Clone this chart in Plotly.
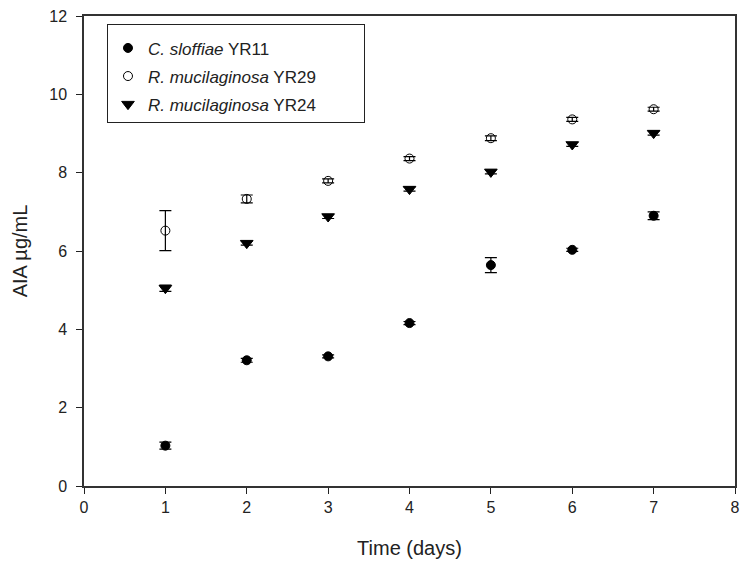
import plotly.graph_objects as go

days = [1, 2, 3, 4, 5, 6, 7]

yr11 = [1.03, 3.21, 3.31, 4.16, 5.64, 6.03, 6.90]
yr11_err = [0.09, 0.05, 0.04, 0.04, 0.19, 0.04, 0.10]

yr29 = [6.52, 7.33, 7.79, 8.36, 8.88, 9.36, 9.62]
yr29_err = [0.51, 0.10, 0.05, 0.05, 0.06, 0.05, 0.05]

yr24 = [5.05, 6.20, 6.88, 7.58, 8.02, 8.72, 9.01]
yr24_err = [0.08, 0.05, 0.05, 0.05, 0.05, 0.05, 0.05]

names = ["<i>C. sloffiae</i> YR11", "<i>R. mucilaginosa</i> YR29", "<i>R. mucilaginosa</i> YR24"]
pad = "\u00a0" * 9

fig = go.Figure()

def add(y, err, name, symbol, color_fill, size, grp):
    fig.add_trace(go.Scatter(
        x=days, y=y, mode="markers", name=name + pad, legendgroup=grp,
        marker=dict(symbol=symbol, size=size, color=color_fill,
                    line=dict(color="black", width=1)),
        error_y=dict(type="data", array=err, visible=True, color="black",
                     thickness=1.2, width=6),
    ))

add(yr11, yr11_err, names[0], "circle", "black", 9, "a")
add(yr29, yr29_err, names[1], "circle-open", "black", 9, "b")
add(yr24, yr24_err, names[2], "triangle-down", "black", 11, "c")

tick_font = dict(family="Liberation Sans, Arial", size=16, color="#222")
title_font = dict(family="Liberation Sans, Arial", size=20, color="#222")

fig.update_layout(
    width=747, height=571,
    margin=dict(l=84, r=7, t=16, b=85),
    paper_bgcolor="white", plot_bgcolor="white",
    font=dict(family="Liberation Sans, Arial", size=14, color="#111"),
    showlegend=True,
    legend=dict(x=0.035, y=0.983, xanchor="left", yanchor="top",
                bordercolor="#222", borderwidth=1.2, bgcolor="white",
                font=dict(family="Liberation Sans, Arial", size=17, color="#222"),
                tracegroupgap=3, traceorder="grouped",
                title=dict(text=" ", font=dict(size=4))),
    xaxis=dict(range=[0, 8], tickmode="linear", tick0=0, dtick=1,
               ticks="outside", ticklen=6, tickcolor="#222", tickwidth=1,
               showline=True, linecolor="#333", linewidth=1.5, mirror=True,
               showgrid=False, zeroline=False, tickfont=tick_font,
               title=dict(text="Time (days)", font=title_font, standoff=26)),
    yaxis=dict(range=[0, 12], tickmode="linear", tick0=0, dtick=2,
               ticks="outside", ticklen=6, tickcolor="#222", tickwidth=1,
               showline=True, linecolor="#333", linewidth=1.5, mirror=True,
               showgrid=False, zeroline=False, tickfont=tick_font,
               ticklabelstandoff=6,
               title=dict(text="AIA µg/mL", font=title_font, standoff=16)),
)

fig.write_html("out.html")
